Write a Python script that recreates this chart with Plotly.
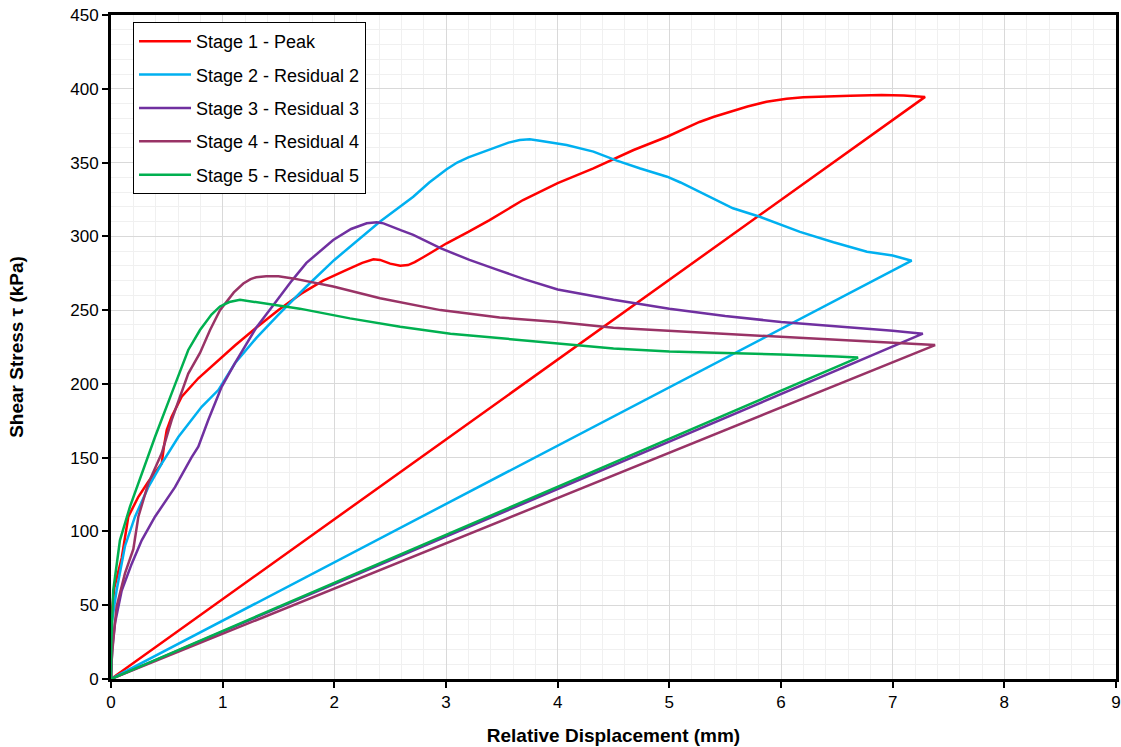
import plotly.graph_objects as go

names = ["Stage 1 - Peak", "Stage 2 - Residual 2", "Stage 3 - Residual 3",
         "Stage 4 - Residual 4", "Stage 5 - Residual 5"]
colors = ["#FF0000", "#00B0F0", "#7030A0", "#993366", "#00B050"]

s1_x = [0, 0.006, 0.03, 0.06, 0.096, 0.155, 0.245, 0.334, 0.454, 0.475, 0.499, 0.543, 0.633,
        0.782, 0.93, 1.11, 1.3, 1.5, 1.7, 1.9, 2.1, 2.25, 2.35, 2.41, 2.5, 2.59, 2.66, 2.72,
        2.8, 2.9, 3.006, 3.2, 3.39, 3.69, 4.0, 4.32, 4.5, 4.68, 4.98, 5.1, 5.27, 5.4, 5.57,
        5.7, 5.87, 6.05, 6.2, 6.32, 6.62, 6.9, 7.1, 7.29, 0]
s1_y = [0, 45, 62, 72, 82, 110, 123.5, 133.7, 146, 158, 168.7, 177.8, 191.3,
        203.8, 214, 226, 238, 250, 261, 270, 277, 282, 284.5, 284, 281.5, 280, 280.5, 282.5,
        286, 290.5, 295.3, 303, 311, 324.6, 336, 346, 352, 358.5, 367.5, 371.5, 377.5, 381, 385,
        388, 391.2, 393.3, 394.2, 394.6, 395.3, 395.8, 395.5, 394.5, 0]

s2_x = [0, 0.006, 0.05, 0.125, 0.215, 0.334, 0.454, 0.603, 0.812, 0.961, 1.11, 1.3, 1.5,
        1.75, 2.0, 2.2, 2.41, 2.707, 2.85, 3.006, 3.1, 3.2, 3.304, 3.45, 3.56, 3.66, 3.75,
        3.84, 4.08, 4.32, 4.53, 4.74, 4.98, 5.1, 5.27, 5.4, 5.57, 5.81, 6.0, 6.17, 6.47,
        6.77, 7.0, 7.17, 0]
s2_y = [0, 37.7, 60, 90, 110, 130, 146, 164, 184.5, 195.8, 214, 231, 247,
        266, 284, 297, 310, 326.8, 336.5, 345.5, 350, 353.5, 356.5, 360.7, 363.5, 365.3, 365.8,
        364.8, 361.9, 357.4, 351.3, 346, 340.4, 336.5, 330.2, 325, 319, 313.3, 308, 303, 296,
        289.6, 287, 283.5, 0]

s3_x = [0, 0.003, 0.01, 0.036, 0.096, 0.185, 0.275, 0.394, 0.573, 0.72, 0.782, 0.871, 0.991,
        1.11, 1.3, 1.48, 1.62, 1.75, 1.99, 2.15, 2.29, 2.38, 2.44, 2.6, 2.707, 2.95, 3.21,
        3.45, 3.7, 4.0, 4.5, 5.0, 5.5, 6.0, 6.17, 6.5, 7.0, 7.27, 0]
s3_y = [0, 8, 19.6, 38, 60, 78, 94, 110, 130, 150, 157.4, 175.5, 198,
        214, 238, 256, 270, 282, 297.5, 305, 308.8, 309.5, 308.8, 304, 301, 292, 284,
        277.6, 271, 264, 257, 251, 246, 242, 241, 239, 236, 234, 0]

s4_x = [0, 0.005, 0.02, 0.05, 0.125, 0.2, 0.245, 0.334, 0.454, 0.543, 0.692, 0.797, 0.887,
        0.976, 1.1, 1.185, 1.25, 1.3, 1.39, 1.5, 1.63, 1.99, 2.41, 2.95, 3.48, 4.0, 4.5, 5.0,
        5.5, 6.0, 6.17, 6.5, 7.0, 7.38, 0]
s4_y = [0, 12, 26, 49, 71.6, 88, 110, 132.6, 153, 175.5, 207, 221, 236.5,
        250, 262, 268, 271, 272.3, 273, 273, 271.5, 266, 258, 250, 245, 242, 238, 236,
        234, 232, 231, 230, 228, 226.3, 0]

s5_x = [0, 0.003, 0.02, 0.08, 0.17, 0.275, 0.394, 0.543, 0.692, 0.797, 0.9, 0.976, 1.06,
        1.155, 1.3, 1.54, 1.69, 2.14, 2.59, 3.04, 3.48, 4.0, 4.5, 5.0, 5.5, 6.0, 6.5,
        6.69, 0]
s5_y = [0, 26, 60, 94, 116.8, 139.4, 164, 193.6, 223, 236.5, 247, 252.5, 255.5,
        257, 255.5, 253, 251, 244.4, 238.7, 234, 231, 227, 224, 222, 221, 220, 218.5,
        217.8, 0]

xs = [s1_x, s2_x, s3_x, s4_x, s5_x]
ys = [s1_y, s2_y, s3_y, s4_y, s5_y]

fig = go.Figure()
for i in range(5):
    fig.add_trace(go.Scatter(x=xs[i], y=ys[i], mode="lines", name=names[i],
                             legendgroup=f"g{i}",
                             line=dict(color=colors[i], width=2.5)))

font = "Liberation Sans, Arial, sans-serif"
axis_common = dict(
    showline=True, linecolor="black", linewidth=3, mirror=True,
    ticks="outside", ticklen=6, tickwidth=2, tickcolor="black",
    showgrid=True, gridcolor="#d9d9d9", gridwidth=1,
    zeroline=False, automargin=False,
    tickfont=dict(family=font, size=17, color="black"),
)

fig.update_layout(
    width=1121, height=747,
    margin=dict(l=111, r=5, t=15, b=68),
    paper_bgcolor="white", plot_bgcolor="white",
    font=dict(family=font, color="black"),
    xaxis=dict(range=[0, 9], dtick=1, tick0=0,
               minor=dict(dtick=0.2, showgrid=True, gridcolor="#f0f0f0", ticks=""),
               title=dict(text="<b>Relative Displacement (mm)</b>",
                          font=dict(family=font, size=19, color="black"), standoff=18),
               **axis_common),
    yaxis=dict(range=[0, 450], dtick=50, tick0=0,
               minor=dict(dtick=10, showgrid=True, gridcolor="#f0f0f0", ticks=""),
               title=dict(text="<b>Shear Stress τ (kPa)</b>",
                          font=dict(family=font, size=19, color="black"), standoff=42),
               **axis_common),
    legend=dict(x=0.0219, y=0.9895, xanchor="left", yanchor="top",
                bgcolor="white", bordercolor="black", borderwidth=1,
                font=dict(family=font, size=18, color="black"),
                tracegroupgap=7, itemwidth=52),
    showlegend=True,
)

fig.write_html("out.html",
               config={"displayModeBar": False},
               post_script="document.body.style.margin='0px';document.body.style.overflow='hidden';")
